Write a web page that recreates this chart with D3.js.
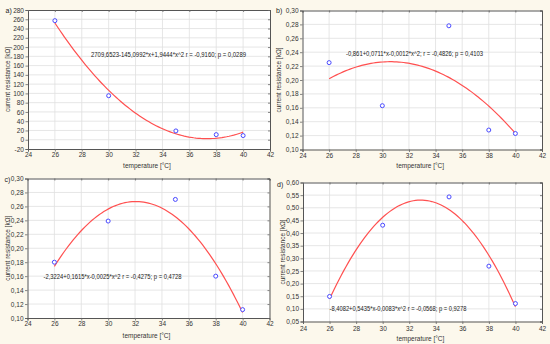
<!DOCTYPE html>
<html><head><meta charset="utf-8">
<script src="https://cdn.jsdelivr.net/npm/d3@7"></script>
<style>
html,body{margin:0;padding:0;background:#fcf8ec;}
svg{display:block;font-family:"Liberation Sans",Arial,sans-serif;}
</style></head>
<body>
<svg id="chart" width="550" height="344"></svg>
<script>
// ---- data ----
const temperature = [26, 30, 35, 38, 40];
const resistanceA = [257, 95, 19, 11, 9];
const resistanceB = [0.225, 0.163, 0.278, 0.128, 0.123];
const resistanceC = [0.180, 0.239, 0.270, 0.160, 0.112];
const resistanceD = [0.149, 0.431, 0.543, 0.269, 0.121];
const xTicks = [24, 26, 28, 30, 32, 34, 36, 38, 40, 42];
const yTicksA = [-20, 0, 20, 40, 60, 80, 100, 120, 140, 160, 180, 200, 220, 240, 260, 280];
const yTicksB = [0.10, 0.12, 0.14, 0.16, 0.18, 0.20, 0.22, 0.24, 0.26, 0.28, 0.30];
const yTicksC = yTicksB;
const yTicksD = [0.05, 0.10, 0.15, 0.20, 0.25, 0.30, 0.35, 0.40, 0.45, 0.50, 0.55, 0.60];
const panelLabels = ["a)", "b)", "c)", "d)"];
const equations = [
  "2709,6523-145,0992*x+1,9444*x^2   r = -0,9160; p = 0,0289",
  "-0,861+0,0711*x-0,0012*x^2; r = -0,4826; p = 0,4103",
  "-2,3224+0,1615*x-0,0025*x^2  r = -0,4275; p = 0,4728",
  "-8,4082+0,5435*x-0,0083*x^2  r = -0,0568; p = 0,9278"
];
const xTitle = "temperature [°C]";
const yTitle = "current resistance [kΩ]";

// ---- layout ----
const panels = [
  {values: resistanceA, yTicks: yTicksA, dec: 0, x0: 28, x1: 270, y0: 10, y1: 149,
   lab: [5.5, 13], eq: [91, 57, 155], xt: 167.5, yt: 8, tl: 157},
  {values: resistanceB, yTicks: yTicksB, dec: 2, x0: 302.5, x1: 542, y0: 10.5, y1: 149.5,
   lab: [276, 13], eq: [346, 56, 137], xt: 167.5, yt: 279, tl: 158},
  {values: resistanceC, yTicks: yTicksC, dec: 2, x0: 27.5, x1: 269.5, y0: 178.5, y1: 318,
   lab: [4.5, 182], eq: [43.5, 278.5, 138], xt: 338, yt: 8, tl: 326},
  {values: resistanceD, yTicks: yTicksD, dec: 2, x0: 303, x1: 542, y0: 182.5, y1: 321.5,
   lab: [277, 187], eq: [329.5, 310.5, 137], xt: 340.5, yt: 283, tl: 330.5}
];

function quadFit(xs, ys) {
  const mx = d3.mean(xs);
  const u = xs.map(x => x - mx);
  const s = k => d3.sum(u, v => Math.pow(v, k));
  const t = k => d3.sum(u, (v, i) => Math.pow(v, k) * ys[i]);
  const A = [[xs.length, s(1), s(2)], [s(1), s(2), s(3)], [s(2), s(3), s(4)]];
  const b = [t(0), t(1), t(2)];
  for (let i = 0; i < 3; i++) {
    for (let j = i + 1; j < 3; j++) {
      const f = A[j][i] / A[i][i];
      for (let k = i; k < 3; k++) A[j][k] -= f * A[i][k];
      b[j] -= f * b[i];
    }
  }
  const c = [0, 0, 0];
  for (let i = 2; i >= 0; i--) {
    let sum = b[i];
    for (let k = i + 1; k < 3; k++) sum -= A[i][k] * c[k];
    c[i] = sum / A[i][i];
  }
  return x => c[0] + c[1] * (x - mx) + c[2] * (x - mx) * (x - mx);
}

const svg = d3.select("#chart");
svg.append("rect").attr("width", 550).attr("height", 344).attr("fill", "#fcf8ec");

panels.forEach((p, pi) => {
  const g = svg.append("g");
  const x = d3.scaleLinear().domain([24, 42]).range([p.x0, p.x1]);
  const yd = d3.extent(p.yTicks);
  const y = d3.scaleLinear().domain(yd).range([p.y1, p.y0]);
  const fmt = v => v.toFixed(p.dec).replace(".", ",");

  g.append("rect").attr("x", p.x0).attr("y", p.y0)
    .attr("width", p.x1 - p.x0).attr("height", p.y1 - p.y0).attr("fill", "#fff");

  // grid
  g.selectAll(".gx").data(xTicks.slice(1, -1)).join("line")
    .attr("x1", d => x(d)).attr("x2", d => x(d)).attr("y1", p.y0).attr("y2", p.y1)
    .attr("stroke", "#e0e0e0").attr("stroke-width", 0.8);
  g.selectAll(".gy").data(p.yTicks.slice(1, -1)).join("line")
    .attr("y1", d => y(d)).attr("y2", d => y(d)).attr("x1", p.x0).attr("x2", p.x1)
    .attr("stroke", "#e0e0e0").attr("stroke-width", 0.8);

  // axes
  const ax = g.append("g").attr("transform", `translate(0,${p.y1})`)
    .call(d3.axisBottom(x).tickValues(xTicks).tickSize(2.5).tickPadding(2).tickFormat(d3.format("d")));
  const ay = g.append("g").attr("transform", `translate(${p.x0},0)`)
    .call(d3.axisLeft(y).tickValues(p.yTicks).tickSize(2.5).tickPadding(1.5).tickFormat(fmt));
  const at = g.append("g").attr("transform", `translate(0,${p.y0})`)
    .call(d3.axisBottom(x).tickValues(xTicks).tickSize(2).tickFormat(""));
  const ar = g.append("g").attr("transform", `translate(${p.x1},0)`)
    .call(d3.axisLeft(y).tickValues(p.yTicks).tickSize(2).tickFormat(""));
  [ax, ay, at, ar].forEach(a => {
    a.selectAll("path").attr("stroke", "#555").attr("stroke-width", 1);
    a.selectAll("line").attr("stroke", "#666").attr("stroke-width", 0.8);
    a.selectAll("text").attr("font-size", "6.5px").attr("fill", "#333")
      .attr("font-family", "'Liberation Sans', Arial, sans-serif");
  });
  ax.selectAll("text").attr("dy", null).attr("y", p.tl - p.y1);

  // fitted curve
  const f = quadFit(temperature, p.values);
  const xs = d3.range(0, 81).map(i => 26 + i * (40 - 26) / 80);
  g.append("path")
    .attr("d", d3.line().x(d => x(d)).y(d => y(f(d)))(xs))
    .attr("fill", "none").attr("stroke", "#ff5050").attr("stroke-width", 1.2);

  // points
  g.selectAll(".pt").data(temperature).join("circle")
    .attr("cx", d => x(d)).attr("cy", (d, i) => y(p.values[i])).attr("r", 2)
    .attr("fill", "#fff").attr("stroke", "#4848ff").attr("stroke-width", 1);

  // equation
  g.append("text").attr("x", p.eq[0]).attr("y", p.eq[1])
    .attr("textLength", p.eq[2]).attr("lengthAdjust", "spacingAndGlyphs")
    .attr("font-size", "7px").attr("fill", "#222").text(equations[pi]);

  // panel label
  g.append("text").attr("x", p.lab[0]).attr("y", p.lab[1])
    .attr("font-size", "7px").attr("fill", "#222").text(panelLabels[pi]);

  // axis titles
  g.append("text").attr("x", (p.x0 + p.x1) / 2 - 2).attr("y", p.xt)
    .attr("text-anchor", "middle").attr("font-size", "6.5px").attr("fill", "#333").text(xTitle);
  g.append("text")
    .attr("transform", `translate(${p.yt},${(p.y0 + p.y1) / 2}) rotate(-90)`)
    .attr("text-anchor", "middle").attr("dy", "0.35em")
    .attr("font-size", "6.5px").attr("fill", "#333").text(yTitle);
});
</script>
</body></html>
